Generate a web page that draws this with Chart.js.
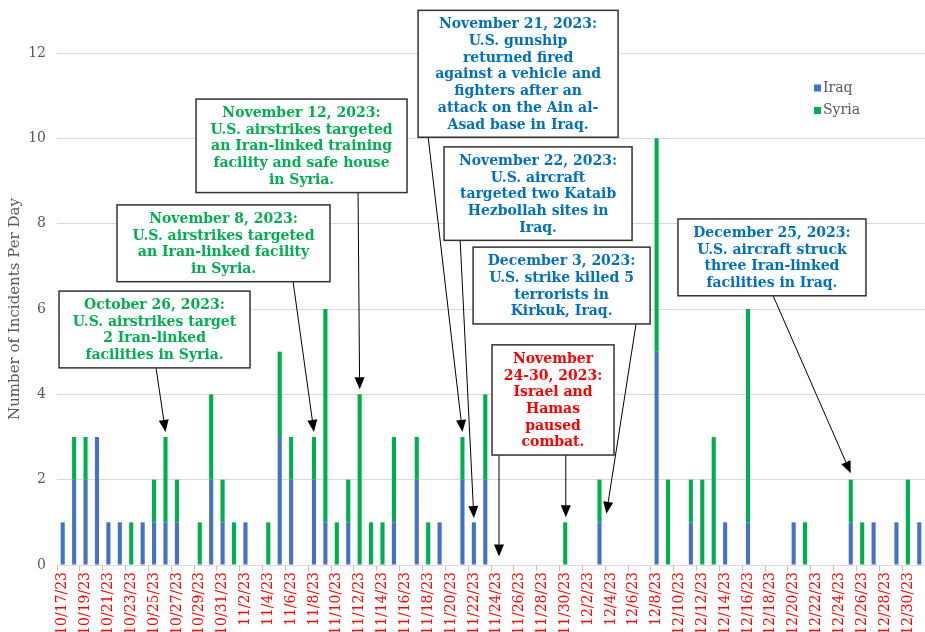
<!DOCTYPE html>
<html lang="en">
<head>
<meta charset="UTF-8" />
<title>Incidents per day - Iraq and Syria</title>
<script src="https://cdn.jsdelivr.net/npm/chart.js"></script>
<style>
  html, body { margin: 0; padding: 0; background: #fff; }
  #wrap { width: 925px; height: 632px; position: relative; }
</style>
</head>
<body>
<div id="wrap"><canvas id="incidents"></canvas></div>
<script>
// days from 10/17/23 to 12/31/23
const days = [
  '10/17/23','10/18/23','10/19/23','10/20/23','10/21/23','10/22/23','10/23/23','10/24/23','10/25/23','10/26/23',
  '10/27/23','10/28/23','10/29/23','10/30/23','10/31/23','11/1/23','11/2/23','11/3/23','11/4/23','11/5/23',
  '11/6/23','11/7/23','11/8/23','11/9/23','11/10/23','11/11/23','11/12/23','11/13/23','11/14/23','11/15/23',
  '11/16/23','11/17/23','11/18/23','11/19/23','11/20/23','11/21/23','11/22/23','11/23/23','11/24/23','11/25/23',
  '11/26/23','11/27/23','11/28/23','11/29/23','11/30/23','12/1/23','12/2/23','12/3/23','12/4/23','12/5/23',
  '12/6/23','12/7/23','12/8/23','12/9/23','12/10/23','12/11/23','12/12/23','12/13/23','12/14/23','12/15/23',
  '12/16/23','12/17/23','12/18/23','12/19/23','12/20/23','12/21/23','12/22/23','12/23/23','12/24/23','12/25/23',
  '12/26/23','12/27/23','12/28/23','12/29/23','12/30/23','12/31/23'
];

const iraq = [
  1,2,2,3,1,1,0,1,1,1,
  1,0,0,2,1,0,1,0,0,3,
  2,0,2,1,0,1,0,0,0,1,
  0,2,0,1,0,2,1,2,0,0,
  0,0,0,0,0,0,0,1,0,0,
  0,0,5,0,0,1,0,0,1,0,
  1,0,0,0,1,0,0,0,0,1,
  0,1,0,1,0,1
];

const syria = [
  0,1,1,0,0,0,1,0,1,2,
  1,0,1,2,1,1,0,0,1,2,
  1,0,1,5,1,1,4,1,1,2,
  0,1,1,0,0,1,0,2,0,0,
  0,0,0,0,1,0,0,1,0,0,
  0,0,5,2,0,1,2,3,0,0,
  5,0,0,0,0,1,0,0,0,1,
  1,0,0,0,2,0
];

const GREEN = '#00B050';
const BLUE = '#0070C0';
const RED = '#FF0000';

// callouts: box centre (category index), box top (value), arrows [start idx, tip idx, tip value]
const notes = [
  { lines: ['October 26, 2023:', 'U.S. airstrikes target', '2 Iran-linked', 'facilities in Syria.'],
    color: GREEN, x: 8.04, top: 6.42, w: 191, arrows: [[8.17, 9, 3.12]] },
  { lines: ['November 8, 2023:', 'U.S. airstrikes targeted', 'an Iran-linked facility', 'in Syria.'],
    color: GREEN, x: 14.08, top: 8.44, w: 213, arrows: [[20.17, 22, 3.12]] },
  { lines: ['November 12, 2023:', 'U.S. airstrikes targeted', 'an Iran-linked training', 'facility and safe house', 'in Syria.'],
    color: GREEN, x: 20.91, top: 10.92, w: 211, arrows: [[25.86, 26, 4.12]] },
  { lines: ['November 21, 2023:', 'U.S. gunship', 'returned fired', 'against a vehicle and', 'fighters after an', 'attack on the Ain al-', 'Asad base in Iraq.'],
    color: BLUE, x: 39.87, top: 13.0, w: 200, arrows: [[32.0, 35, 3.12]] },
  { lines: ['November 22, 2023:', 'U.S. aircraft', 'targeted two Kataib', 'Hezbollah sites in', 'Iraq.'],
    color: BLUE, x: 41.62, top: 9.8, w: 188, arrows: [[34.8, 36, 1.1]] },
  { lines: ['December 3, 2023:', 'U.S. strike killed 5', 'terrorists in', 'Kirkuk, Iraq.'],
    color: BLUE, x: 43.68, top: 7.45, w: 177, arrows: [[50.2, 47.6, 1.2]] },
  { lines: ['November', '24-30, 2023:', 'Israel and', 'Hamas', 'paused', 'combat.'],
    color: RED, x: 42.93, top: 5.16, w: 122, arrows: [[38.2, 38.2, 0.2], [44.05, 44.05, 1.12]] },
  { lines: ['December 25, 2023:', 'U.S. aircraft struck', 'three Iran-linked', 'facilities in Iraq.'],
    color: BLUE, x: 62.1, top: 8.11, w: 188, arrows: [[62.2, 69, 2.15]] }
];

Chart.defaults.font.family = "'DejaVu Serif', serif";

// draws the callout boxes, arrows and the small legend
const notePlugin = {
  id: 'notes',
  afterDatasetsDraw(chart) {
    const { ctx, scales: { x, y } } = chart;
    const lh = 16.7, pad = 5;
    ctx.save();

    // arrows first, boxes on top
    notes.forEach(n => {
      const top = y.getPixelForValue(n.top);
      const bottom = top + n.lines.length * lh + pad * 2;
      n.arrows.forEach(a => {
        const sx = x.getPixelForValue(a[0]);
        const tx = x.getPixelForValue(a[1]);
        const ty = y.getPixelForValue(a[2]);
        const ang = Math.atan2(ty - bottom, tx - sx);
        const len = 12, half = 5;
        ctx.strokeStyle = '#000';
        ctx.lineWidth = 1;
        ctx.beginPath();
        ctx.moveTo(sx, bottom);
        ctx.lineTo(tx - Math.cos(ang) * len, ty - Math.sin(ang) * len);
        ctx.stroke();
        ctx.fillStyle = '#000';
        ctx.beginPath();
        ctx.moveTo(tx, ty);
        ctx.lineTo(tx - Math.cos(ang) * len - Math.sin(ang) * half, ty - Math.sin(ang) * len + Math.cos(ang) * half);
        ctx.lineTo(tx - Math.cos(ang) * len + Math.sin(ang) * half, ty - Math.sin(ang) * len - Math.cos(ang) * half);
        ctx.closePath();
        ctx.fill();
      });
    });

    notes.forEach(n => {
      const cx = x.getPixelForValue(n.x);
      const top = y.getPixelForValue(n.top);
      const h = n.lines.length * lh + pad * 2;
      ctx.fillStyle = '#fff';
      ctx.fillRect(cx - n.w / 2, top, n.w, h);
      ctx.strokeStyle = '#333';
      ctx.lineWidth = 1.5;
      ctx.strokeRect(cx - n.w / 2, top, n.w, h);
      ctx.fillStyle = n.color;
      ctx.font = "bold 14px 'DejaVu Serif'";
      ctx.textAlign = 'center';
      ctx.textBaseline = 'middle';
      n.lines.forEach((t, i) => {
        ctx.fillText(t, cx, top + pad + lh * (i + 0.5) + 1);
      });
    });

    // legend
    ctx.font = "14px 'DejaVu Serif'";
    ctx.textAlign = 'left';
    ctx.textBaseline = 'middle';
    chart.data.datasets.forEach((ds, i) => {
      const ly = 88 + i * 22.5;
      ctx.fillStyle = ds.backgroundColor;
      ctx.fillRect(814, ly - 3.5, 7, 7);
      ctx.fillStyle = '#595959';
      ctx.fillText(ds.label, 823, ly);
    });
    ctx.restore();
  }
};

const ctx = document.getElementById('incidents').getContext('2d');
const incidentChart = new Chart(ctx, {
  type: 'bar',
  data: {
    labels: days,
    datasets: [
      { label: 'Iraq', data: iraq, backgroundColor: '#4472C4', barPercentage: 0.36, categoryPercentage: 1.0 },
      { label: 'Syria', data: syria, backgroundColor: GREEN, barPercentage: 0.36, categoryPercentage: 1.0 }
    ]
  },
  options: {
    responsive: true,
    maintainAspectRatio: false,
    animation: false,
    layout: { padding: { top: 53, right: 0, left: 0, bottom: 0 } },
    plugins: {
      legend: { display: false },
      tooltip: { enabled: false }
    },
    scales: {
      x: {
        stacked: true,
        grid: {
          offset: true,
          drawOnChartArea: false,
          drawTicks: true,
          tickLength: 6,
          color: c => (c.index % 2 === 0 ? '#bfbfbf' : 'rgba(0,0,0,0)')
        },
        border: { color: '#d9d9d9' },
        ticks: {
          autoSkip: false,
          maxRotation: 90,
          minRotation: 90,
          padding: 1,
          color: RED,
          font: { size: 14 },
          callback: function (v, i) { return i % 2 === 0 ? this.getLabelForValue(v) : ''; }
        },
        afterFit: s => { s.height = 67; s.paddingLeft = 0; s.paddingRight = 0; }
      },
      y: {
        stacked: true,
        min: 0,
        max: 12,
        ticks: { stepSize: 2, color: '#595959', font: { size: 14 }, padding: 11 },
        grid: { color: '#d9d9d9', drawTicks: false },
        border: { display: false },
        title: {
          display: true,
          text: 'Number of Incidents Per Day',
          color: '#595959',
          font: { size: 15 },
          padding: { top: 6, bottom: 0 }
        },
        afterFit: s => { s.width = 57; }
      }
    }
  },
  plugins: [notePlugin]
});
</script>
</body>
</html>
